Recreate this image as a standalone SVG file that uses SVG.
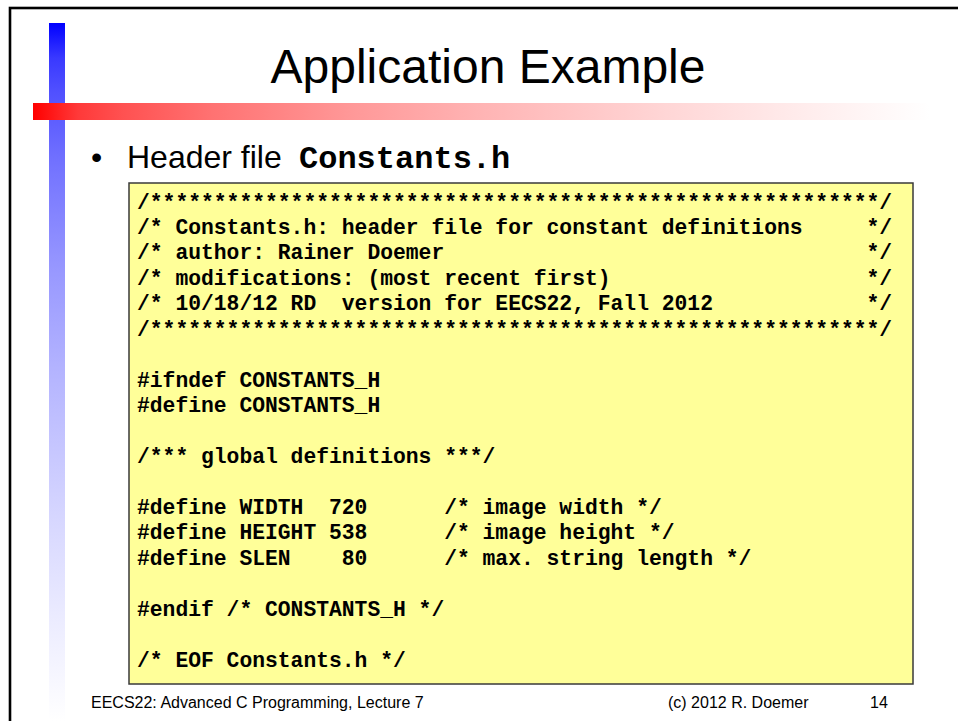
<svg xmlns="http://www.w3.org/2000/svg" width="958" height="721" viewBox="0 0 958 721">
  <defs>
    <linearGradient id="gBlue" x1="0" y1="0" x2="0" y2="1">
      <stop offset="0" stop-color="rgb(0,0,255)"/>
      <stop offset="0.05" stop-color="rgb(57,57,255)"/>
      <stop offset="0.1" stop-color="rgb(81,81,255)"/>
      <stop offset="0.2" stop-color="rgb(114,114,255)"/>
      <stop offset="0.35" stop-color="rgb(151,151,255)"/>
      <stop offset="0.5" stop-color="rgb(180,180,255)"/>
      <stop offset="0.7" stop-color="rgb(213,213,255)"/>
      <stop offset="0.85" stop-color="rgb(235,235,255)"/>
      <stop offset="1" stop-color="rgb(255,255,255)"/>
    </linearGradient>
    <linearGradient id="gRed" x1="0" y1="0" x2="1" y2="0">
      <stop offset="0" stop-color="rgb(255,0,0)"/>
      <stop offset="0.05" stop-color="rgb(255,57,57)"/>
      <stop offset="0.1" stop-color="rgb(255,81,81)"/>
      <stop offset="0.2" stop-color="rgb(255,114,114)"/>
      <stop offset="0.35" stop-color="rgb(255,151,151)"/>
      <stop offset="0.5" stop-color="rgb(255,180,180)"/>
      <stop offset="0.7" stop-color="rgb(255,213,213)"/>
      <stop offset="0.85" stop-color="rgb(255,235,235)"/>
      <stop offset="1" stop-color="rgb(255,255,255)"/>
    </linearGradient>
  </defs>
  <style>
    .sans { font-family: "Liberation Sans", Arial, sans-serif; fill: #000; }
    .mono { font-family: "Liberation Mono", "Courier New", monospace; font-weight: bold; fill: #000; }
    .code { font-family: "Liberation Mono", "Courier New", monospace; font-weight: bold; font-size: 21.33px; fill: #000; white-space: pre; }
    .foot { font-family: "Liberation Sans", Arial, sans-serif; font-size: 16px; fill: #000; }
  </style>
  <rect x="0" y="0" width="958" height="721" fill="#ffffff"/>
  <g id="frame">
    <rect x="10" y="8" width="970" height="730" fill="none" stroke="#000" stroke-width="2.6"/>
  </g>
  <g id="decor">
    <rect x="49" y="23" width="16" height="698" fill="url(#gBlue)"/>
    <rect x="33" y="103" width="897" height="17" fill="url(#gRed)"/>
  </g>
  <g id="title">
    <text class="sans" x="488" y="83" font-size="48" text-anchor="middle">Application Example</text>
  </g>
  <g id="bullet">
    <text class="sans" x="91" y="168" font-size="32">•</text>
    <text class="sans" x="127" y="168" font-size="32">Header file</text>
    <text class="mono" x="299" y="168" font-size="32">Constants.h</text>
  </g>
  <g id="codebox">
    <rect x="129" y="183" width="784" height="501" fill="#ffff99" stroke="#3a3a3a" stroke-width="1.5"/>
    <text class="code" xml:space="preserve" x="137" y="208.5">/*********************************************************/</text>
    <text class="code" xml:space="preserve" x="137" y="233.9">/* Constants.h: header file for constant definitions     */</text>
    <text class="code" xml:space="preserve" x="137" y="259.4">/* author: Rainer Doemer                                 */</text>
    <text class="code" xml:space="preserve" x="137" y="284.8">/* modifications: (most recent first)                    */</text>
    <text class="code" xml:space="preserve" x="137" y="310.3">/* 10/18/12 RD  version for EECS22, Fall 2012            */</text>
    <text class="code" xml:space="preserve" x="137" y="335.7">/*********************************************************/</text>
    <text class="code" xml:space="preserve" x="137" y="386.6">#ifndef CONSTANTS_H</text>
    <text class="code" xml:space="preserve" x="137" y="412.1">#define CONSTANTS_H</text>
    <text class="code" xml:space="preserve" x="137" y="463.0">/*** global definitions ***/</text>
    <text class="code" xml:space="preserve" x="137" y="513.9">#define WIDTH  720      /* image width */</text>
    <text class="code" xml:space="preserve" x="137" y="539.4">#define HEIGHT 538      /* image height */</text>
    <text class="code" xml:space="preserve" x="137" y="564.8">#define SLEN    80      /* max. string length */</text>
    <text class="code" xml:space="preserve" x="137" y="615.7">#endif /* CONSTANTS_H */</text>
    <text class="code" xml:space="preserve" x="137" y="666.6">/* EOF Constants.h */</text>
  </g>
  <g id="footer">
    <text class="foot" x="91" y="708">EECS22: Advanced C Programming, Lecture 7</text>
    <text class="foot" x="668" y="708">(c) 2012 R. Doemer</text>
    <text class="foot" x="870" y="708">14</text>
  </g>
</svg>
